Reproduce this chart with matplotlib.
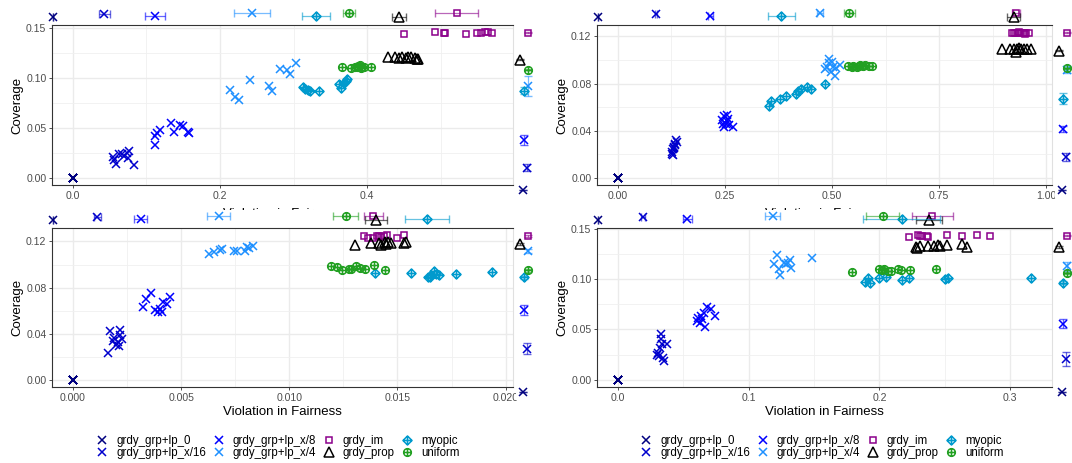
import numpy as np
import matplotlib
matplotlib.use('Agg')
import matplotlib.pyplot as plt
from matplotlib.path import Path
from matplotlib.lines import Line2D
from matplotlib.ticker import MultipleLocator, FormatStrFormatter

plt.rcParams['font.family'] = ['Liberation Sans', 'DejaVu Sans']

W, H = 1072, 463
T975 = 2.262  # t quantile for a 95% interval with 10 runs

groups = ['grdy_grp+lp_0', 'grdy_grp+lp_x/16', 'grdy_grp+lp_x/8', 'grdy_grp+lp_x/4',
          'grdy_im', 'grdy_prop', 'myopic', 'uniform']

lp0_x = [0.0] * 10
lp0_y = [0.0] * 10

# top left panel
tl_x16_x = [0.055, 0.058, 0.062, 0.067, 0.070, 0.074, 0.075, 0.076, 0.083, 0.056]
tl_x16_y = [0.021, 0.014, 0.024, 0.024, 0.022, 0.025, 0.020, 0.027, 0.013, 0.018]
tl_x8_x = [0.111, 0.112, 0.114, 0.118, 0.134, 0.138, 0.146, 0.150, 0.156, 0.158]
tl_x8_y = [0.033, 0.042, 0.045, 0.048, 0.055, 0.046, 0.053, 0.052, 0.046, 0.045]
tl_x4_x = [0.213, 0.221, 0.226, 0.241, 0.267, 0.271, 0.282, 0.291, 0.295, 0.304]
tl_x4_y = [0.088, 0.081, 0.078, 0.098, 0.092, 0.087, 0.109, 0.108, 0.104, 0.115]
tl_im_x = [0.450, 0.493, 0.504, 0.506, 0.534, 0.549, 0.555, 0.560, 0.565, 0.570]
tl_im_y = [0.144, 0.146, 0.145, 0.145, 0.144, 0.145, 0.145, 0.146, 0.146, 0.145]
tl_prop_x = [0.429, 0.438, 0.444, 0.448, 0.453, 0.456, 0.460, 0.465, 0.468, 0.469]
tl_prop_y = [0.121, 0.121, 0.120, 0.121, 0.120, 0.121, 0.121, 0.120, 0.119, 0.119]
tl_my_x = [0.313, 0.316, 0.320, 0.323, 0.335, 0.362, 0.364, 0.368, 0.371, 0.373]
tl_my_y = [0.091, 0.089, 0.088, 0.087, 0.087, 0.094, 0.090, 0.095, 0.097, 0.099]
tl_un_x = [0.366, 0.378, 0.383, 0.386, 0.388, 0.390, 0.392, 0.393, 0.396, 0.405]
tl_un_y = [0.111, 0.110, 0.111, 0.111, 0.112, 0.113, 0.110, 0.111, 0.111, 0.111]

# top right panel
tr_x16_x = [0.126, 0.129, 0.131, 0.133, 0.137, 0.139, 0.127, 0.131, 0.134, 0.129]
tr_x16_y = [0.020, 0.024, 0.026, 0.029, 0.032, 0.030, 0.022, 0.025, 0.028, 0.019]
tr_x8_x = [0.244, 0.248, 0.254, 0.258, 0.252, 0.248, 0.260, 0.268, 0.256, 0.246]
tr_x8_y = [0.049, 0.052, 0.053, 0.050, 0.046, 0.043, 0.045, 0.043, 0.048, 0.046]
tr_x4_x = [0.483, 0.489, 0.494, 0.500, 0.502, 0.497, 0.506, 0.510, 0.518, 0.492]
tr_x4_y = [0.092, 0.094, 0.101, 0.098, 0.094, 0.090, 0.086, 0.093, 0.096, 0.097]
tr_im_x = [0.921, 0.925, 0.929, 0.933, 0.937, 0.941, 0.947, 0.950, 0.953, 0.959]
tr_im_y = [0.123, 0.123, 0.123, 0.123, 0.1235, 0.123, 0.123, 0.122, 0.123, 0.123]
tr_prop_x = [0.896, 0.916, 0.924, 0.929, 0.932, 0.936, 0.941, 0.947, 0.955, 0.965]
tr_prop_y = [0.109, 0.109, 0.109, 0.107, 0.109, 0.110, 0.109, 0.109, 0.109, 0.109]
tr_my_x = [0.354, 0.358, 0.378, 0.393, 0.415, 0.421, 0.428, 0.441, 0.452, 0.484]
tr_my_y = [0.061, 0.065, 0.067, 0.069, 0.071, 0.074, 0.075, 0.077, 0.075, 0.080]
tr_un_x = [0.538, 0.546, 0.550, 0.558, 0.562, 0.566, 0.572, 0.578, 0.586, 0.594]
tr_un_y = [0.0945, 0.094, 0.095, 0.094, 0.095, 0.096, 0.095, 0.096, 0.095, 0.095]

# bottom left panel
bl_x16_x = [0.00163, 0.00171, 0.00184, 0.00192, 0.00200, 0.00206, 0.00211, 0.00216, 0.00219, 0.00227]
bl_x16_y = [0.0234, 0.0420, 0.0334, 0.0363, 0.0306, 0.0329, 0.0291, 0.0434, 0.0386, 0.0357]
bl_x8_x = [0.00322, 0.00338, 0.00362, 0.00378, 0.00394, 0.00413, 0.00417, 0.00433, 0.00449, 0.00402]
bl_x8_y = [0.0631, 0.0700, 0.0749, 0.0606, 0.0591, 0.0586, 0.0671, 0.0657, 0.0720, 0.0614]
bl_x4_x = [0.00629, 0.00651, 0.00679, 0.00687, 0.00743, 0.00756, 0.00794, 0.00803, 0.00814, 0.00830]
bl_x4_y = [0.1091, 0.1111, 0.1129, 0.1134, 0.1120, 0.1120, 0.1117, 0.1149, 0.1143, 0.1160]
bl_im_x = [0.01343, 0.01365, 0.01386, 0.01406, 0.01414, 0.01425, 0.01438, 0.01451, 0.01497, 0.01532]
bl_im_y = [0.1243, 0.1234, 0.1234, 0.1243, 0.1249, 0.1240, 0.1249, 0.1254, 0.1226, 0.1254]
bl_prop_x = [0.01303, 0.01378, 0.01413, 0.01422, 0.01441, 0.01454, 0.01470, 0.01529, 0.01537, 0.01449]
bl_prop_y = [0.1169, 0.1186, 0.1186, 0.1169, 0.1197, 0.1191, 0.1186, 0.1186, 0.1191, 0.1177]
bl_my_x = [0.01394, 0.01563, 0.01640, 0.01656, 0.01667, 0.01676, 0.01692, 0.01771, 0.01937, 0.01651]
bl_my_y = [0.0926, 0.0926, 0.0889, 0.0906, 0.0943, 0.0920, 0.0911, 0.0917, 0.0931, 0.0891]
bl_un_x = [0.01192, 0.01222, 0.01243, 0.01275, 0.01286, 0.01306, 0.01327, 0.01349, 0.01390, 0.01444]
bl_un_y = [0.0983, 0.0977, 0.0954, 0.0963, 0.0963, 0.0983, 0.0971, 0.0963, 0.0997, 0.0954]

# bottom right panel
br_x16_x = [0.0310, 0.0318, 0.0326, 0.0331, 0.0333, 0.0344, 0.0336, 0.0352, 0.0378, 0.0299]
br_x16_y = [0.0271, 0.0238, 0.0320, 0.0453, 0.0403, 0.0215, 0.0360, 0.0182, 0.0360, 0.0248]
br_x8_x = [0.0604, 0.0617, 0.0635, 0.0648, 0.0656, 0.0664, 0.0682, 0.0716, 0.0747, 0.0630]
br_x8_y = [0.0585, 0.0618, 0.0634, 0.0601, 0.0667, 0.0525, 0.0723, 0.0700, 0.0634, 0.0568]
br_x4_x = [0.1195, 0.1221, 0.1242, 0.1273, 0.1289, 0.1315, 0.1326, 0.1482, 0.1229, 0.1299]
br_x4_y = [0.1146, 0.1239, 0.1041, 0.1163, 0.1146, 0.1186, 0.1107, 0.1206, 0.1097, 0.1163]
br_im_x = [0.2227, 0.2292, 0.2323, 0.2362, 0.2518, 0.2630, 0.2745, 0.2844, 0.2375, 0.2310]
br_im_y = [0.1417, 0.1437, 0.1427, 0.1427, 0.1437, 0.1427, 0.1437, 0.1427, 0.1424, 0.1434]
br_prop_x = [0.2279, 0.2310, 0.2370, 0.2414, 0.2448, 0.2461, 0.2513, 0.2630, 0.2669, 0.2289]
br_prop_y = [0.1318, 0.1328, 0.1328, 0.1328, 0.1338, 0.1328, 0.1338, 0.1345, 0.1318, 0.1312]
br_my_x = [0.1888, 0.1914, 0.1927, 0.1997, 0.2049, 0.2172, 0.2227, 0.2505, 0.2523, 0.3161]
br_my_y = [0.0975, 0.1008, 0.0958, 0.1014, 0.1021, 0.0991, 0.1008, 0.1004, 0.1014, 0.1008]
br_un_x = [0.1789, 0.1997, 0.2018, 0.2036, 0.2063, 0.2089, 0.2141, 0.2167, 0.2237, 0.2435]
br_un_y = [0.1074, 0.1097, 0.1087, 0.1097, 0.1080, 0.1080, 0.1097, 0.1087, 0.1087, 0.1103]

# marker shapes like ggplot's 9 (diamond plus) and 10 (circle plus)
cross = [Path([(-1, 0), (1, 0)]), Path([(0, -1), (0, 1)])]
diamond_plus = Path.make_compound_path(
    Path([(0, 1), (1, 0), (0, -1), (-1, 0), (0, 1)], closed=True), *cross)
circle_plus = Path.make_compound_path(Path.unit_circle(), *cross)

markers = ['x', 'x', 'x', 'x', 's', '^', diamond_plus, circle_plus]
colors = ['#000080', '#0000CD', '#0000FF', '#1E90FF', '#8B008B', '#000000', '#009ACD', '#22A022']
msizes = [6, 6, 6, 6, 5, 6.5, 6.5, 5.5]

# little offsets so the summary marks do not sit on one line
top_jit = [0.29, 0.50, 0.36, 0.57, 0.57, 0.29, 0.36, 0.57]
side_jit = [0.28, 0.44, 0.32, 0.48, 0.48, 0.16, 0.32, 0.48]


def rect(l, t, r, b):
    return [l / W, 1 - b / H, (r - l) / W, (b - t) / H]


def blank(ax):
    ax.set_xticks([])
    ax.set_yticks([])
    for s in ax.spines.values():
        s.set_visible(False)


def panel(fig, box, xs, ys, xstep, ystep, xfmt, yfmt, xpad):
    l, t, r, b = box
    ax = fig.add_axes(rect(l, t, r, b), zorder=1)
    for i in range(len(groups)):
        ax.plot(xs[i], ys[i], ls='none', marker=markers[i], ms=msizes[i],
                mec=colors[i], mfc='none', mew=1.1)
    ax.xaxis.set_major_locator(MultipleLocator(xstep))
    ax.xaxis.set_minor_locator(MultipleLocator(xstep / 2))
    ax.yaxis.set_major_locator(MultipleLocator(ystep))
    ax.yaxis.set_minor_locator(MultipleLocator(ystep / 2))
    ax.xaxis.set_major_formatter(FormatStrFormatter(xfmt))
    ax.yaxis.set_major_formatter(FormatStrFormatter(yfmt))
    ax.grid(which='major', color='#EBEBEB', lw=1.0)
    ax.grid(which='minor', color='#F0F0F0', lw=0.6)
    ax.set_axisbelow(True)
    ax.tick_params(which='major', length=2.5, width=0.6, color='#333333',
                   labelcolor='#4D4D4D', labelsize=7.6, pad=1.5)
    ax.tick_params(which='minor', length=0)
    for name, s in ax.spines.items():
        s.set_color('#333333' if name != 'right' else '#E0E0E0')
        s.set_linewidth(0.8)
    ax.set_xlabel('Violation in Fairness', fontsize=9.5, labelpad=xpad)
    ax.set_ylabel('Coverage', fontsize=9.5, labelpad=2)
    xlim = ax.get_xlim()
    ylim = ax.get_ylim()

    # mean and 95% interval of each method along x, above the panel
    top = fig.add_axes(rect(l - 21, t - 18, r - 3, t - 4), zorder=3)
    blank(top)
    top.set_xlim(xlim)
    top.set_ylim(0, 1)
    # same along y, right of the panel
    side = fig.add_axes(rect(r + 3, t - 1, r + 28, b + 13), zorder=3)
    blank(side)
    side.set_ylim(ylim)
    side.set_xlim(0, 1)
    for i in range(len(groups)):
        x = np.asarray(xs[i])
        y = np.asarray(ys[i])
        n = len(x)
        xe = T975 * x.std(ddof=1) / np.sqrt(n)
        ye = T975 * y.std(ddof=1) / np.sqrt(n)
        top.errorbar(x.mean(), top_jit[i], xerr=xe, fmt='none', ecolor=colors[i],
                     alpha=0.6, elinewidth=0.9, capsize=3, clip_on=False)
        top.plot(x.mean(), top_jit[i], ls='none', marker=markers[i], ms=msizes[i],
                 mec=colors[i], mfc='none', mew=1.1, clip_on=False)
        side.errorbar(side_jit[i], y.mean(), yerr=ye, fmt='none', ecolor=colors[i],
                      alpha=0.6, elinewidth=0.9, capsize=3, clip_on=False)
        side.plot(side_jit[i], y.mean(), ls='none', marker=markers[i], ms=msizes[i],
                  mec=colors[i], mfc='none', mew=1.1, clip_on=False)
    return ax


fig = plt.figure(figsize=(W / 100, H / 100), dpi=100)

panel(fig, (52, 25, 513, 185),
      [lp0_x, tl_x16_x, tl_x8_x, tl_x4_x, tl_im_x, tl_prop_x, tl_my_x, tl_un_x],
      [lp0_y, tl_x16_y, tl_x8_y, tl_x4_y, tl_im_y, tl_prop_y, tl_my_y, tl_un_y],
      0.2, 0.05, '%.1f', '%.2f', 5.5)
panel(fig, (597, 25, 1052, 185),
      [lp0_x, tr_x16_x, tr_x8_x, tr_x4_x, tr_im_x, tr_prop_x, tr_my_x, tr_un_x],
      [lp0_y, tr_x16_y, tr_x8_y, tr_x4_y, tr_im_y, tr_prop_y, tr_my_y, tr_un_y],
      0.25, 0.04, '%.2f', '%.2f', 5.5)
panel(fig, (52, 228, 513, 387),
      [lp0_x, bl_x16_x, bl_x8_x, bl_x4_x, bl_im_x, bl_prop_x, bl_my_x, bl_un_x],
      [lp0_y, bl_x16_y, bl_x8_y, bl_x4_y, bl_im_y, bl_prop_y, bl_my_y, bl_un_y],
      0.005, 0.04, '%.3f', '%.2f', 2.5)
panel(fig, (597, 228, 1052, 387),
      [lp0_x, br_x16_x, br_x8_x, br_x4_x, br_im_x, br_prop_x, br_my_x, br_un_x],
      [lp0_y, br_x16_y, br_x8_y, br_x4_y, br_im_y, br_prop_y, br_my_y, br_un_y],
      0.1, 0.05, '%.1f', '%.2f', 2.5)

handles = [Line2D([], [], ls='none', marker=markers[i], ms=msizes[i], mec=colors[i],
                  mfc='none', mew=1.1) for i in range(len(groups))]
for cx in (278, 822):
    fig.legend(handles, groups, ncol=4, loc='center', bbox_to_anchor=(cx / W, 1 - 447 / H),
               frameon=False, fontsize=8.3, handlelength=1.0, handletextpad=0.7,
               columnspacing=0.6, labelspacing=0.0, borderpad=0.2)

fig.savefig('out.png', dpi=100)
